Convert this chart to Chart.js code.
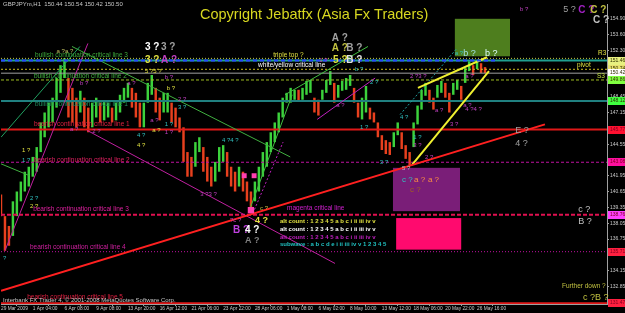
<!DOCTYPE html>
<html>
<head>
<meta charset="utf-8">
<script src="https://cdn.jsdelivr.net/npm/chart.js@4.4.0/dist/chart.umd.min.js"></script>
<style>
  html, body { margin: 0; padding: 0; background: #000; }
</style>
</head>
<body>
<canvas id="chart" width="625" height="313"></canvas>
<script>
// x axis: one slot = a few hours of H1 bars, time labels every 8 slots
const timeLabels = ['29 Mar 2009', '1 Apr 04:00', '6 Apr 08:00', '9 Apr 08:00', '13 Apr 20:00', '16 Apr 12:00',
  '21 Apr 06:00', '23 Apr 22:00', '28 Apr 06:00', '1 May 08:00', '6 May 02:00', '8 May 10:00',
  '13 May 12:00', '18 May 06:00', '20 May 22:00', '26 May 16:00']
const labelSlots = [0, 8, 16, 24, 32, 40, 48, 56, 64, 72, 80, 88, 96, 104, 112, 120]

const yTicks = [154.90, 153.60, 152.30, 151.00, 149.75, 148.45, 147.15, 145.85, 144.55, 143.25,
  141.95, 140.65, 139.35, 138.05, 136.75, 135.45, 134.15, 132.85]

// GBPJPY price bars (high / low per slot)
const highs = [140.43, 138.64, 137.83, 139.86, 140.67, 141.49, 142.30, 142.71, 143.52, 144.33,
  146.36, 147.18, 147.99, 148.40, 150.02, 151.08, 151.65, 150.02, 149.21, 148.40,
  148.97, 148.40, 147.58, 147.99, 148.40, 147.99, 148.15, 147.99, 147.58, 147.99,
  148.64, 149.21, 149.62, 149.21, 148.80, 147.99, 147.99, 149.62, 150.27, 149.21,
  148.40, 148.80, 148.80, 147.99, 147.58, 146.77, 145.96, 143.92, 143.52, 144.74,
  145.14, 144.33, 143.52, 142.71, 143.11, 144.33, 144.49, 143.92, 142.71, 142.30,
  142.71, 142.30, 141.49, 140.67, 141.49, 142.71, 143.92, 144.74, 145.55, 146.36,
  147.18, 148.40, 148.80, 149.21, 149.05, 149.05, 149.21, 149.78, 149.86, 148.40,
  148.23, 149.05, 149.86, 150.59, 149.62, 149.45, 149.78, 150.02, 150.27, 149.21,
  147.99, 148.40, 149.37, 147.58, 147.18, 146.36, 145.31, 144.90, 144.74, 145.55,
  146.36, 145.55, 144.49, 143.92, 146.36, 147.75, 149.05, 149.62, 149.05, 148.40,
  149.45, 149.78, 149.62, 148.80, 149.62, 149.86, 149.37, 150.84, 151.40, 151.08,
  151.49, 151.24, 150.92]
const lows = [138.64, 135.79, 136.20, 137.01, 138.64, 139.86, 140.67, 141.08, 141.89, 142.30,
  143.92, 145.14, 145.96, 146.36, 147.58, 148.80, 150.02, 146.77, 146.36, 145.96,
  147.18, 145.96, 145.55, 145.96, 146.77, 146.36, 146.53, 146.77, 146.36, 146.53,
  147.18, 147.99, 148.40, 147.58, 146.77, 145.96, 145.96, 147.99, 148.64, 147.18,
  146.53, 147.18, 147.18, 146.36, 145.96, 145.55, 143.11, 141.89, 141.89, 142.71,
  143.92, 142.30, 141.49, 141.08, 141.49, 142.30, 143.11, 141.89, 141.08, 140.67,
  141.08, 140.67, 139.86, 139.05, 139.86, 140.67, 141.89, 142.71, 143.92, 144.74,
  145.55, 146.77, 147.99, 147.99, 148.23, 148.15, 148.23, 148.64, 148.80, 147.18,
  146.93, 148.23, 148.80, 149.45, 147.99, 148.40, 148.97, 149.05, 149.37, 147.99,
  146.77, 146.61, 147.18, 146.61, 146.36, 145.14, 144.09, 143.76, 143.68, 144.33,
  145.31, 144.17, 143.36, 142.79, 144.33, 146.20, 147.42, 148.56, 147.99, 147.42,
  148.40, 148.80, 148.40, 147.18, 148.64, 149.05, 148.23, 149.62, 150.59, 150.27,
  150.75, 150.43, 150.43]

// horizontal critical lines
const levelPrices = [151.64, 151.46, 150.74, 150.42, 149.86, 148.12, 145.77, 143.08, 138.76, 135.71, 131.47]
const levelLabels = ['', '151.46', '150.74', '150.42', '149.86', '148.12', '145.77', '143.08', '138.76', '135.71', '131.47']

// trend lines: slot1, price1, slot2, price2
const trendLines = [
  [0, 132.49, 137.1, 146.20],
  [105.1, 149.21, 122.5, 151.73],
  [103.6, 142.87, 123.0, 150.59],
  [0, 145.14, 19.9, 152.62],
  [17.9, 152.62, 72.9, 143.52],
  [0, 142.95, 7.0, 142.00],
  [62.8, 139.29, 73.4, 148.64],
  [71.6, 148.64, 92.5, 152.62],
  [100.6, 147.01, 114.9, 152.46],
  [1.0, 135.79, 21.9, 152.87],
  [21.7, 145.71, 84.2, 134.74],
  [79.7, 146.61, 94.3, 150.02],
  [63.5, 138.88, 71.1, 144.74]
]

// pink squares
const markerSlots = [61.3, 63.8, 63.0]
const markerPrices = [141.97, 141.97, 139.13]

// boxes: slot1, slot2, price top, price bottom
const boxSlots = [[114.4, 128.3], [98.8, 115.7], [99.6, 116.0]]
const boxPrices = [[154.90, 151.81], [142.62, 139.05], [138.48, 135.88]]

const X_MAX = 152.75
const upColor = '#3cd23c'
const downColor = '#e8401e'

const levelStyles = [
  {c: '#c8d040', w: 1, d: [1, 2]},
  {c: '#20a090', w: 2, d: []},
  {c: '#d0c020', w: 1, d: [2, 2]},
  {c: '#a0a0a0', w: 1, d: []},
  {c: '#a0c020', w: 1, d: [3, 2]},
  {c: '#208080', w: 2, d: []},
  {c: '#e01818', w: 2, d: []},
  {c: '#c010a0', w: 1, d: [3, 2]},
  {c: '#e01050', w: 2, d: [4, 2]},
  {c: '#c010a0', w: 1, d: [1, 2]},
  {c: '#e01818', w: 2, d: []}
]
const levelBoxColors = ['', '#e8f080', '#e8e070', '#ffffff', '#80ff40', '#40ff40', '#ff1030', '#ff10a0', '#ff40ff', '#ff2040', '#ff2040']

const trendStyles = [
  {c: '#ff2020', w: 2, d: []},
  {c: '#f0f030', w: 2, d: []},
  {c: '#f0f030', w: 2, d: []},
  {c: '#20a060', w: 1, d: []},
  {c: '#40b040', w: 1, d: []},
  {c: '#40b040', w: 1, d: []},
  {c: '#40c040', w: 1, d: []},
  {c: '#40c040', w: 1, d: []},
  {c: '#20a0a0', w: 1, d: [2, 2]},
  {c: '#c020a0', w: 1, d: []},
  {c: '#c020a0', w: 1, d: []},
  {c: '#c020c0', w: 1, d: []},
  {c: '#c020c0', w: 1, d: [2, 2]}
]
const boxColors = ['#4e7e1e', '#7a1e78', '#ff0a6e']

// wave labels: text, slot, price, colour, size, bold
const notes = [
  ['bullish continuation critical line 3', 8.6, 151.89, '#3caa3c', 6.5, false],
  ['a ?a ?', 14, 152.2, '#c0c060', 6, false],
  ['bullish continuation critical line 2', 8.3, 150.19, '#40b040', 6.5, false],
  ['bullish continuation critical line 1', 8.6, 147.83, '#209060', 6.5, false],
  ['bearish continuation critical line 1', 8.3, 146.20, '#e02040', 6.5, false],
  ['bearish continuation critical line 2', 8.3, 143.27, '#e02060', 6.5, false],
  ['bearish continuation critical line 3', 8.1, 139.21, '#e020a0', 6.5, false],
  ['bearish continuation critical line 4', 7.3, 136.04, '#d020a0', 6.5, false],
  ['bearish continuation critical line 5', 6.6, 131.97, '#e02040', 6.5, false],
  ['3 ?', 36.3, 152.54, '#ffffff', 10, true],
  ['3 ?', 40.3, 152.54, '#a0a0a0', 10, true],
  ['3 ?', 36.3, 151.49, '#e0e040', 10, true],
  ['A ?', 40.3, 151.49, '#c040c0', 10, true],
  ['5 ?5 ?', 36.3, 150.59, '#e0e040', 6, false],
  ['b ?', 41.3, 150.10, '#c040c0', 6, false],
  ['b ?', 41.8, 149.21, '#e0e040', 6, false],
  ['b ?', 19.9, 149.62, '#c040c0', 6, false],
  ['a ?', 31.8, 149.62, '#c040c0', 6, false],
  ['2 ?', 44.6, 148.23, '#c040c0', 6, false],
  ['3 ?', 44.6, 147.58, '#30c0c0', 6, false],
  ['4 ?', 34.3, 145.31, '#30c0c0', 6, false],
  ['4 ?', 34.3, 144.49, '#e0e040', 6, false],
  ['a ?', 37.6, 146.53, '#c040c0', 6, false],
  ['a ?', 38.1, 145.71, '#e0e040', 6, false],
  ['1 ?', 41.3, 146.20, '#30c0c0', 6, false],
  ['1 ?', 41.3, 145.55, '#c040c0', 6, false],
  ['a ?', 17.4, 145.80, '#c040c0', 6, false],
  ['2 ?', 23.0, 145.60, '#c040c0', 6, false],
  ['1 ?', 5.3, 144.09, '#e0e040', 6, false],
  ['1 ?', 5.3, 143.27, '#30c0c0', 6, false],
  ['4 ?4 ?', 55.7, 144.90, '#30c0c0', 6, false],
  ['2 ?', 7.3, 140.10, '#30c0c0', 6, false],
  ['2 ?', 7.3, 139.45, '#e0e040', 6, false],
  ['3 ?3 ?', 50.2, 140.43, '#c040c0', 6, false],
  ['?', 0.5, 135.14, '#30c0c0', 6, false],
  ['5 ?', 141.7, 155.63, '#a0a0a0', 9, false],
  ['C ?', 145.5, 155.63, '#a020c0', 10, true],
  ['C ?', 148.5, 155.63, '#c0c040', 10, true],
  ['C ?', 149.2, 154.74, '#c0c0c0', 10, true],
  ['b ?', 130.8, 155.71, '#c040c0', 6, false],
  ['A ?', 83.4, 153.27, '#a0a0a0', 10, true],
  ['A ?', 83.4, 152.46, '#c0c040', 10, true],
  ['B ?', 87.0, 152.46, '#a0a0a0', 10, true],
  ['1 ?', 80.2, 151.49, '#c040c0', 6, false],
  ['5 ?', 83.7, 151.49, '#e0e040', 10, true],
  ['B ?', 87.0, 151.49, '#e0e0e0', 10, true],
  ['triple top ?', 68.6, 151.89, '#e0e040', 6.5, false],
  ['white/yellow critical line', 64.8, 151.08, '#ffffff', 6.5, false],
  ['b ?', 89.2, 150.75, '#30c0c0', 6, false],
  ['2 ?3 ?', 103.1, 150.19, '#c040c0', 6, false],
  ['a ?', 117.0, 150.19, '#c040c0', 6, false],
  ['2 ?', 93.0, 149.70, '#30c0c0', 6, false],
  ['a ?', 84.5, 147.75, '#c040c0', 6, false],
  ['a ?', 114.4, 152.05, '#30c0c0', 6, false],
  ['b ?', 116.5, 152.05, '#a0e0e0', 9, false],
  ['b ?', 122.0, 152.05, '#e0ffff', 9, false],
  ['R3', 150.5, 152.05, '#e0e040', 6.5, false],
  ['pivot', 145.2, 151.08, '#e0e040', 6.5, false],
  ['S3', 150.2, 150.19, '#c0e040', 6.5, false],
  ['1 ?', 90.5, 145.96, '#30c0c0', 6, false],
  ['4 ?', 100.6, 146.77, '#30c0c0', 6, false],
  ['a ?', 109.4, 147.34, '#c040c0', 6, false],
  ['3 ?', 113.2, 146.20, '#c040c0', 6, false],
  ['a ?', 116.5, 147.80, '#c040c0', 6, false],
  ['4 ?4 ?', 117.0, 147.40, '#c040c0', 6, false],
  ['E ?', 129.6, 145.71, '#a0a0a0', 9, false],
  ['4 ?', 129.6, 144.66, '#a0a0a0', 9, false],
  ['3 ?', 95.5, 143.11, '#30c0c0', 6, false],
  ['1 ?', 103.9, 145.14, '#30c0c0', 6, false],
  ['3 ?', 103.9, 144.49, '#c040c0', 6, false],
  ['2 ?', 106.9, 143.52, '#c040c0', 6, false],
  ['5 ?', 101.1, 142.54, '#c0c0c0', 6, false],
  ['c ?', 101.1, 141.65, '#30c0c0', 8, false],
  ['a ?', 104.1, 141.65, '#ff9040', 8, false],
  ['a ?', 107.6, 141.65, '#ff9040', 8, false],
  ['c ?', 103.1, 140.84, '#a06020', 8, false],
  ['magenta critical line', 72.1, 139.29, '#d020d0', 6.5, false],
  ['c ?', 145.5, 139.21, '#c0c0c0', 9, false],
  ['B ?', 145.5, 138.23, '#c0c0c0', 9, false],
  ['Further down ?', 141.4, 132.87, '#c0c040', 6.5, false],
  ['c ?B ?', 146.7, 131.97, '#c0c040', 9, false],
  ['alt count : 1 2 3 4 5 a b c i ii iii iv v', 70.3, 138.23, '#e0e040', 6, true],
  ['alt count : 1 2 3 4 5 a b c i ii iii iv v', 70.3, 137.58, '#ffffff', 6, true],
  ['alt count : 1 2 3 4 5 a b c i ii iii iv v', 70.3, 136.93, '#c020c0', 6, true],
  ['subwave : a b c d e i ii iii iv v 1 2 3 4 5', 70.3, 136.28, '#20c0c0', 6, true],
  ['?c ?', 57.7, 138.32, '#c040c0', 6, false],
  ['4 ?', 64.0, 138.32, '#e0e040', 9, true],
  ['B ?', 58.5, 137.50, '#c040e0', 10, true],
  ['4 ?', 61.5, 137.50, '#ffffff', 10, true],
  ['A ?', 61.5, 136.60, '#808080', 9, true],
  ['c ?', 65.3, 139.29, '#c0c040', 6, false]
]

const barData = highs.map((h, i) => ({x: i, y: [lows[i], h]}))
const barColors = highs.map((h, i) => {
  if (i === 0) return downColor
  return (h + lows[i]) >= (highs[i - 1] + lows[i - 1]) ? upColor : downColor
})

let datasets = []
// horizontal levels
levelPrices.forEach((p, i) => {
  datasets.push({
    type: 'line', data: [{x: 0, y: p}, {x: X_MAX, y: p}],
    borderColor: levelStyles[i].c, borderWidth: levelStyles[i].w, borderDash: levelStyles[i].d,
    pointRadius: 0, fill: false, order: 1
  })
})
// blue dashes over critical line 3
datasets.push({
  type: 'line', data: [{x: 0, y: levelPrices[1]}, {x: 125, y: levelPrices[1]}],
  borderColor: '#2848ff', borderWidth: 2, borderDash: [4, 3], pointRadius: 0, fill: false, order: 0
})
trendLines.forEach((t, i) => {
  datasets.push({
    type: 'line', data: [{x: t[0], y: t[1]}, {x: t[2], y: t[3]}],
    borderColor: trendStyles[i].c, borderWidth: trendStyles[i].w, borderDash: trendStyles[i].d,
    pointRadius: 0, fill: false, order: 0
  })
})
datasets.push({
  type: 'line', showLine: false,
  data: markerSlots.map((s, i) => ({x: s, y: markerPrices[i]})),
  pointStyle: 'rect', pointRadius: [3.5, 3.5, 4.5], backgroundColor: '#ff40b0', borderWidth: 0, order: -1
})
datasets.push({
  type: 'bar', data: barData, backgroundColor: barColors, borderWidth: 0,
  barPercentage: 1, categoryPercentage: 0.62, order: 5
})

const shapesPlugin = {
  id: 'shapes',
  beforeDatasetsDraw (chart) {
    const {ctx, chartArea, scales: {x, y}} = chart
    ctx.save()
    ctx.beginPath()
    ctx.rect(chartArea.left, chartArea.top, chartArea.right - chartArea.left, chartArea.bottom - chartArea.top)
    ctx.clip()
    boxSlots.forEach((b, i) => {
      const x1 = x.getPixelForValue(b[0]), x2 = x.getPixelForValue(b[1])
      const y1 = y.getPixelForValue(boxPrices[i][0]), y2 = y.getPixelForValue(boxPrices[i][1])
      ctx.fillStyle = boxColors[i]
      ctx.fillRect(x1, y1, x2 - x1, y2 - y1)
    })
    ctx.restore()
  },
  afterDatasetsDraw (chart) {
    const {ctx, scales: {x, y}} = chart
    ctx.save()
    ctx.textBaseline = 'middle'
    ctx.textAlign = 'left'
    notes.forEach(n => {
      ctx.font = (n[5] ? 'bold ' : '') + n[4] + 'px "Liberation Sans", Arial, sans-serif'
      ctx.fillStyle = n[3]
      ctx.fillText(n[0], x.getPixelForValue(n[1]), y.getPixelForValue(n[2]))
    })
    ctx.restore()
  },
  afterDraw (chart) {
    const {ctx, chartArea, scales: {y}} = chart
    ctx.save()
    // price tags on the right axis
    ctx.font = '5px "Liberation Sans", Arial, sans-serif'
    ctx.textBaseline = 'middle'
    levelLabels.forEach((lbl, i) => {
      if (!lbl) return
      const py = Math.round(y.getPixelForValue(levelPrices[i]))
      ctx.fillStyle = levelBoxColors[i]
      ctx.fillRect(chartArea.right + 1, py - 4, 18, 8)
      ctx.fillStyle = i >= 6 ? '#800020' : '#303000'
      ctx.fillText(lbl, chartArea.right + 3, py)
    })
    // header texts
    ctx.font = '6px "Liberation Sans", Arial, sans-serif'
    ctx.fillStyle = '#c8c8c8'
    ctx.fillText('GBPJPYm,H1  150.44 150.54 150.42 150.50', 3, 4)
    ctx.fillText('Interbank FX Trader 4, \u00a9 2001-2008 MetaQuotes Software Corp.', 3, 300)
    ctx.font = '14.5px "Liberation Sans", Arial, sans-serif'
    ctx.fillStyle = '#d8d820'
    ctx.fillText('Copyright Jebatfx (Asia Fx Traders)', 200, 15)
    ctx.restore()
  }
}

const ctx = document.getElementById('chart').getContext('2d')
new Chart(ctx, {
  type: 'bar',
  data: {datasets: datasets},
  options: {
    responsive: false,
    animation: false,
    layout: {padding: {left: 1, top: 0, right: 0, bottom: 0}, autoPadding: false},
    plugins: {legend: {display: false}, tooltip: {enabled: false}},
    scales: {
      x: {
        type: 'linear', min: 0, max: X_MAX, offset: false,
        afterBuildTicks: s => { s.ticks = labelSlots.map(v => ({value: v})) },
        afterFit: s => { s.height = 9 },
        ticks: {
          autoSkip: false, maxRotation: 0, align: 'start', padding: 0, color: '#c8c8c8',
          font: {family: 'Liberation Sans', size: 4.8},
          callback: (v, i) => timeLabels[i]
        },
        grid: {display: true, drawOnChartArea: false, drawTicks: true, tickLength: 2, color: '#a0a0a0'},
        border: {display: true, color: '#a0a0a0'}
      },
      y: {
        type: 'linear', position: 'right', min: 131.40, max: 156.12,
        afterBuildTicks: s => { s.ticks = yTicks.map(v => ({value: v})) },
        afterFit: s => { s.width = 18 },
        ticks: {
          padding: 1, color: '#c8c8c8', font: {family: 'Liberation Sans', size: 5},
          callback: v => v.toFixed(2)
        },
        grid: {display: true, drawOnChartArea: false, drawTicks: true, tickLength: 2, color: '#a0a0a0'},
        border: {display: true, color: '#a0a0a0'}
      }
    }
  },
  plugins: [shapesPlugin]
})
</script>
</body>
</html>
